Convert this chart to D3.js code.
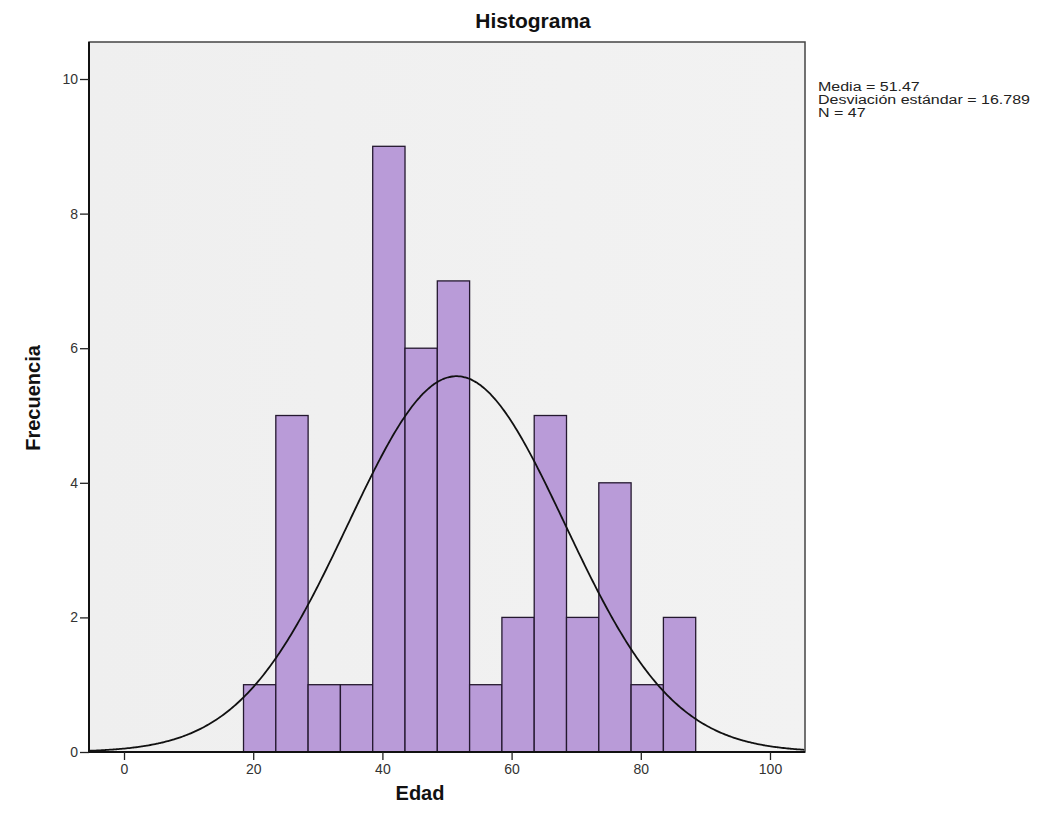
<!DOCTYPE html>
<html><head><meta charset="utf-8">
<script src="https://cdn.jsdelivr.net/npm/d3@7"></script>
<style>body{margin:0;background:#fff}svg{display:block}</style>
</head><body>
<svg id="c" width="1046" height="833"></svg>
<script>
const binStarts = [18.5,23.5,28.5,33.5,38.5,43.5,48.5,53.5,58.5,63.5,68.5,73.5,78.5,83.5];
const binWidth = 5;
const counts = [1,5,1,1,9,6,7,1,2,5,2,4,1,2];
const xTicks = [0,20,40,60,80,100];
const yTicks = [0,2,4,6,8,10];
const statsLines = ["Media = 51.47","Desviación estándar = 16.789","N = 47"];
const mean = 51.47, sd = 16.789, n = 47;

const svg = d3.select("#c");
const L=89, R=805, T=42, B=752;
const x = d3.scaleLinear().domain([-5.42,105.42]).range([L,R]);
const y = d3.scaleLinear().domain([0,10.55]).range([B,T]);

// plot background
const defs = svg.append("defs");
const g = defs.append("linearGradient").attr("id","bg").attr("x1",0).attr("x2",1).attr("y1",0).attr("y2",0);
g.append("stop").attr("offset","0%").attr("stop-color","#efefef");
g.append("stop").attr("offset","100%").attr("stop-color","#f2f2f2");
svg.append("rect").attr("x",L).attr("y",T).attr("width",R-L).attr("height",B-T).attr("fill","url(#bg)");

// bars
svg.append("g").selectAll("rect").data(counts).join("rect")
  .attr("x",(d,i)=>x(binStarts[i]))
  .attr("width",(d,i)=>x(binStarts[i]+binWidth)-x(binStarts[i]))
  .attr("y",d=>y(d))
  .attr("height",d=>B-y(d))
  .attr("fill","#b99bd8")
  .attr("stroke","#24182f")
  .attr("stroke-width",1.3);

// normal curve
const pts = d3.range(-5.42,105.43,0.25).map(v=>[v, n*binWidth*Math.exp(-0.5*((v-mean)/sd)**2)/(sd*Math.sqrt(2*Math.PI))]);
svg.append("path").datum(pts)
  .attr("d",d3.line().x(d=>x(d[0])).y(d=>y(d[1])).curve(d3.curveBasis))
  .attr("fill","none").attr("stroke","#111").attr("stroke-width",1.8);

// frame
svg.append("rect").attr("x",L).attr("y",T).attr("width",R-L).attr("height",B-T)
  .attr("fill","none").attr("stroke","#444").attr("stroke-width",1.5);
svg.append("line").attr("x1",L).attr("x2",L).attr("y1",T).attr("y2",B).attr("stroke","#111").attr("stroke-width",2);
svg.append("line").attr("x1",L).attr("x2",R).attr("y1",B).attr("y2",B).attr("stroke","#111").attr("stroke-width",2);

// axes
const xa = svg.append("g").attr("transform",`translate(0,${B})`)
  .call(d3.axisBottom(x).tickValues(xTicks).tickSize(8).tickSizeOuter(0).tickPadding(4));
const ya = svg.append("g").attr("transform",`translate(${L},0)`)
  .call(d3.axisLeft(y).tickValues(yTicks).tickSize(9).tickSizeOuter(0).tickPadding(2));
[xa,ya].forEach(a=>{
  a.select(".domain").remove();
  a.selectAll("line").attr("stroke","#222").attr("stroke-width",1.3);
  a.selectAll("text").attr("font-family","Liberation Sans, Arial, sans-serif").attr("font-size",14).attr("fill","#333");
});

// titles
svg.append("text").attr("x",533).attr("y",28).attr("text-anchor","middle")
  .attr("font-family","Liberation Sans, Arial, sans-serif").attr("font-weight","bold").attr("font-size",21).attr("fill","#111").text("Histograma");
svg.append("text").attr("x",420).attr("y",800).attr("text-anchor","middle")
  .attr("font-family","Liberation Sans, Arial, sans-serif").attr("font-weight","bold").attr("font-size",20).attr("fill","#111").text("Edad");
svg.append("text").attr("transform","translate(40,398) rotate(-90)").attr("text-anchor","middle")
  .attr("font-family","Liberation Sans, Arial, sans-serif").attr("font-weight","bold").attr("font-size",20).attr("fill","#111").text("Frecuencia");

// stats
svg.append("g").attr("transform","translate(818,0) scale(1.28,1)")
  .selectAll("text").data(statsLines).join("text")
  .attr("x",0).attr("y",(d,i)=>91+i*13)
  .attr("font-family","Liberation Sans, Arial, sans-serif").attr("font-size",12.5).attr("fill","#222")
  .text(d=>d);
</script>
</body></html>
